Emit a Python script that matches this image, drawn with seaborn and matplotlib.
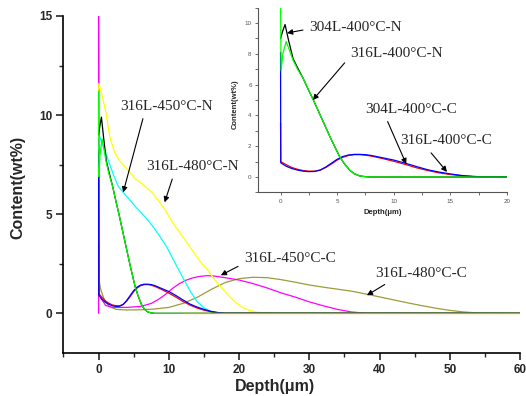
import matplotlib
matplotlib.use('Agg')
import matplotlib.pyplot as plt
import pandas as pd
import seaborn as sns
from matplotlib.ticker import MultipleLocator

# 316L-480C-N (yellow)
y480n_x = [0, 0.02, 0.5, 1.0, 1.6, 2.3, 3.0, 4.0, 5.2, 6.3, 7.6, 8.5, 9.5, 10.5, 11.5, 12.5,
           13.5, 14.5, 15.5, 16.5, 17.5, 18.5, 19.5, 20.5, 21.5, 22.5, 24, 26, 60]
y480n_y = [8.8, 11.6, 11.0, 10.2, 8.9, 8.1, 7.7, 7.3, 6.8, 6.5, 6.1, 5.7, 5.2, 4.6, 4.1, 3.6,
           3.1, 2.6, 2.2, 1.7, 1.3, 0.9, 0.55, 0.3, 0.15, 0.06, 0.02, 0, 0]

# 316L-450C-N (cyan)
c450n_x = [0, 0.2, 0.7, 1.4, 2.1, 2.8, 4.0, 5.2, 6.4, 7.6, 8.6, 9.7, 10.8, 12.0, 13.0, 14.0,
           15.0, 16.2, 17.5, 60]
c450n_y = [8.3, 8.9, 8.4, 7.7, 7.0, 6.4, 5.9, 5.4, 4.95, 4.45, 3.95, 3.35, 2.6, 1.8, 1.15, 0.6,
           0.28, 0.05, 0, 0]

# 304L-400C-N (black)
k400n_x = [0, 0.2, 0.4, 0.7, 1.1, 1.5, 2.0, 2.5, 2.9, 3.3, 3.7, 4.1, 4.5, 4.9, 5.2, 5.6,
           6.1, 6.5, 7.0, 7.5, 8.0, 60]
k400n_y = [9.0, 9.5, 9.9, 8.9, 7.7, 7.1, 6.4, 5.6, 5.0, 4.35, 3.7, 3.05, 2.4, 1.8, 1.35, 0.9,
           0.45, 0.22, 0.07, 0.02, 0, 0]

# 316L-400C-N (green)
g400n_x = [0, 0.05, 0.2, 0.5, 0.8, 1.1, 1.5, 2.0, 2.5, 2.9, 3.3, 3.7, 4.1, 4.5, 4.9, 5.2,
           5.6, 6.1, 6.5, 7.0, 7.5, 8.0, 60]
g400n_y = [11.2, 6.9, 8.0, 8.8, 8.2, 7.6, 7.0, 6.4, 5.6, 5.0, 4.35, 3.7, 3.05, 2.4, 1.8, 1.35,
           0.9, 0.45, 0.22, 0.07, 0.02, 0, 0]

# 400C carbon curves (blue 316L, red 304L)
c400_x = [0, 0.02, 0.5, 1.0, 1.5, 2.0, 2.5, 3.0, 3.5, 4.0, 4.5, 5.0, 5.5, 6.0, 6.5, 7.0,
          7.5, 8.0, 9.0, 10.0, 11.0, 12.0, 13.0, 14.0, 15.0, 16.0, 17.0, 18.0, 60]
b400c_y = [8.1, 0.92, 0.7, 0.55, 0.45, 0.38, 0.35, 0.36, 0.45, 0.65, 0.9, 1.15, 1.33, 1.43,
           1.47, 1.47, 1.45, 1.4, 1.25, 1.1, 0.9, 0.68, 0.47, 0.32, 0.2, 0.1, 0.04, 0.01, 0]
r400c_y = [3.5, 1.0, 0.8, 0.62, 0.5, 0.42, 0.38, 0.38, 0.45, 0.62, 0.85, 1.1, 1.28, 1.4,
           1.45, 1.45, 1.42, 1.36, 1.2, 1.02, 0.82, 0.6, 0.42, 0.27, 0.16, 0.08, 0.03, 0.01, 0]

# 316L-450C-C (magenta)
m450c_x = [0, 0, 0.1, 1, 2, 4, 6, 7.5, 8.5, 9.5, 10.5, 11.5, 12.5, 13.5, 14.5, 15.5, 16.5,
           18, 20, 22, 24, 26, 28, 30, 32, 34, 36, 38, 60]
m450c_y = [0, 15, 0.9, 0.4, 0.3, 0.3, 0.35, 0.5, 0.7, 0.95, 1.25, 1.5, 1.68, 1.8, 1.87, 1.9,
           1.88, 1.8, 1.68, 1.5, 1.28, 1.03, 0.82, 0.58, 0.38, 0.2, 0.07, 0.01, 0]

# 316L-480C-C (olive)
o480c_x = [0, 0.05, 0.3, 0.8, 1.5, 2.5, 4, 6, 8, 10, 12, 14, 16, 18, 20, 22, 24, 26, 28, 30,
           32, 34, 36, 38, 40, 42, 44, 46, 48, 50, 52, 54, 60]
o480c_y = [6.7, 1.7, 1.2, 0.7, 0.35, 0.2, 0.17, 0.18, 0.22, 0.3, 0.5, 0.8, 1.2, 1.55, 1.75,
           1.82, 1.8, 1.7, 1.57, 1.43, 1.32, 1.22, 1.12, 0.98, 0.83, 0.68, 0.53, 0.39, 0.26,
           0.15, 0.07, 0.02, 0]

# baseline traces along zero
base_x = [12, 60]
base_y = [0, 0]

colors = {
    'o480c': '#9c9c3a', 'm450c': '#ff00ff', 'y480n': '#ffff00', 'c450n': '#00ffff',
    'r400c': '#ff0000', 'b400c': '#0000ff', 'k400n': '#000000', 'g400n': '#00ff00',
    'base': '#ff8c00',
}


def make_df(parts):
    frames = []
    for name, xs, ys in parts:
        frames.append(pd.DataFrame({'depth': xs, 'content': ys, 'series': name}))
    return pd.concat(frames, ignore_index=True)


main_df = make_df([
    ('o480c', o480c_x, o480c_y),
    ('m450c', m450c_x, m450c_y),
    ('y480n', y480n_x, y480n_y),
    ('c450n', c450n_x, c450n_y),
    ('r400c', c400_x, r400c_y),
    ('b400c', c400_x, b400c_y),
    ('k400n', k400n_x, k400n_y),
    ('g400n', g400n_x, g400n_y),
    ('base', base_x, base_y),
])
inset_df = make_df([
    ('r400c', c400_x, r400c_y),
    ('b400c', c400_x, b400c_y),
    ('k400n', k400n_x, k400n_y),
    ('g400n', g400n_x, g400n_y),
])

sns.set_style('ticks')
plt.rcParams['font.family'] = ['Liberation Sans', 'DejaVu Sans']

fig = plt.figure(figsize=(5.26, 3.96), dpi=100)
ax = fig.add_axes([0.1207, 0.1086, 0.8679, 0.8510])

sns.lineplot(data=main_df, x='depth', y='content', hue='series',
             hue_order=list(main_df['series'].unique()), palette=colors,
             estimator=None, sort=False, legend=False, lw=0.9, ax=ax)

ax.set_xlim(-5, 60)
ax.set_ylim(-2, 15)
ax.xaxis.set_major_locator(MultipleLocator(10))
ax.xaxis.set_minor_locator(MultipleLocator(5))
ax.yaxis.set_major_locator(MultipleLocator(5))
ax.yaxis.set_minor_locator(MultipleLocator(2.5))
ax.tick_params(which='major', direction='out', length=5, width=1.2, labelsize=8.5, pad=3)
ax.tick_params(which='minor', direction='out', length=3, width=1.0)
for lab in ax.get_xticklabels() + ax.get_yticklabels():
    lab.set_fontweight('bold')
for side in ['top', 'right']:
    ax.spines[side].set_visible(False)
for side in ['left', 'bottom']:
    ax.spines[side].set_linewidth(1.2)
    ax.spines[side].set_color('black')

ax.set_xlabel('Depth(μm)', fontsize=11.5, fontweight='bold')
ax.set_ylabel('Content(wt%)', fontsize=11.5, fontweight='bold')
ax.xaxis.set_label_coords(0.463, -0.078)
ax.yaxis.set_label_coords(-0.084, 0.49)

arrow = dict(arrowstyle='-|>', color='black', lw=0.8, mutation_scale=8, shrinkB=0)
serif = dict(family='Liberation Serif', fontsize=11, ha='center', va='center')

main_notes = [
    ('316L-450°C-N', (3.5, 6.1), (9.7, 10.45), (0.26, 0.0)),
    ('316L-480°C-N', (9.4, 5.6), (13.4, 7.4), (0.3, 0.0)),
    ('316L-450°C-C', (17.4, 1.92), (27.2, 2.78), (0.0, 0.1)),
    ('316L-480°C-C', (38.2, 0.91), (45.9, 2.02), (0.19, 0.0)),
]
for txt, xy, xytext, rel in main_notes:
    ax.annotate(txt, xy=xy, xytext=xytext, textcoords='data',
                arrowprops=dict(arrow, relpos=rel), **serif)

# inset
ins = fig.add_axes([0.4903, 0.5141, 0.4736, 0.4667])
ins.set_facecolor('white')
sns.lineplot(data=inset_df, x='depth', y='content', hue='series',
             hue_order=list(inset_df['series'].unique()), palette=colors,
             estimator=None, sort=False, legend=False, lw=0.9, ax=ins)
ins.set_xlim(-2, 20)
ins.set_ylim(-1, 11)
ins.xaxis.set_major_locator(MultipleLocator(5))
ins.xaxis.set_minor_locator(MultipleLocator(2.5))
ins.yaxis.set_major_locator(MultipleLocator(2))
ins.yaxis.set_minor_locator(MultipleLocator(1))
ins.tick_params(which='both', direction='out', length=2.5, width=0.6, colors='#555555',
                labelsize=4.5, pad=2)
for side in ['top', 'right']:
    ins.spines[side].set_visible(False)
for side in ['left', 'bottom']:
    ins.spines[side].set_linewidth(0.8)
    ins.spines[side].set_color('#555555')
ins.set_xlabel('Depth(μm)', fontsize=5.5, fontweight='bold')
ins.set_ylabel('Content(wt%)', fontsize=5.5, fontweight='bold')
ins.xaxis.set_label_coords(0.502, -0.09)
ins.yaxis.set_label_coords(-0.076, 0.478)

inset_notes = [
    ('304L-400°C-N', (0.57, 9.35), (6.6, 9.7), (0.0, 0.4)),
    ('316L-400°C-N', (2.85, 5.0), (10.2, 8.05), (0.0, 0.2)),
    ('304L-400°C-C', (11.1, 0.84), (11.5, 4.4), (0.22, 0.0)),
    ('316L-400°C-C', (14.7, 0.33), (14.6, 2.34), (0.29, 0.0)),
]
for txt, xy, xytext, rel in inset_notes:
    ins.annotate(txt, xy=xy, xytext=xytext, textcoords='data',
                 arrowprops=dict(arrow, relpos=rel), **serif)

fig.savefig('out.png', dpi=100)
